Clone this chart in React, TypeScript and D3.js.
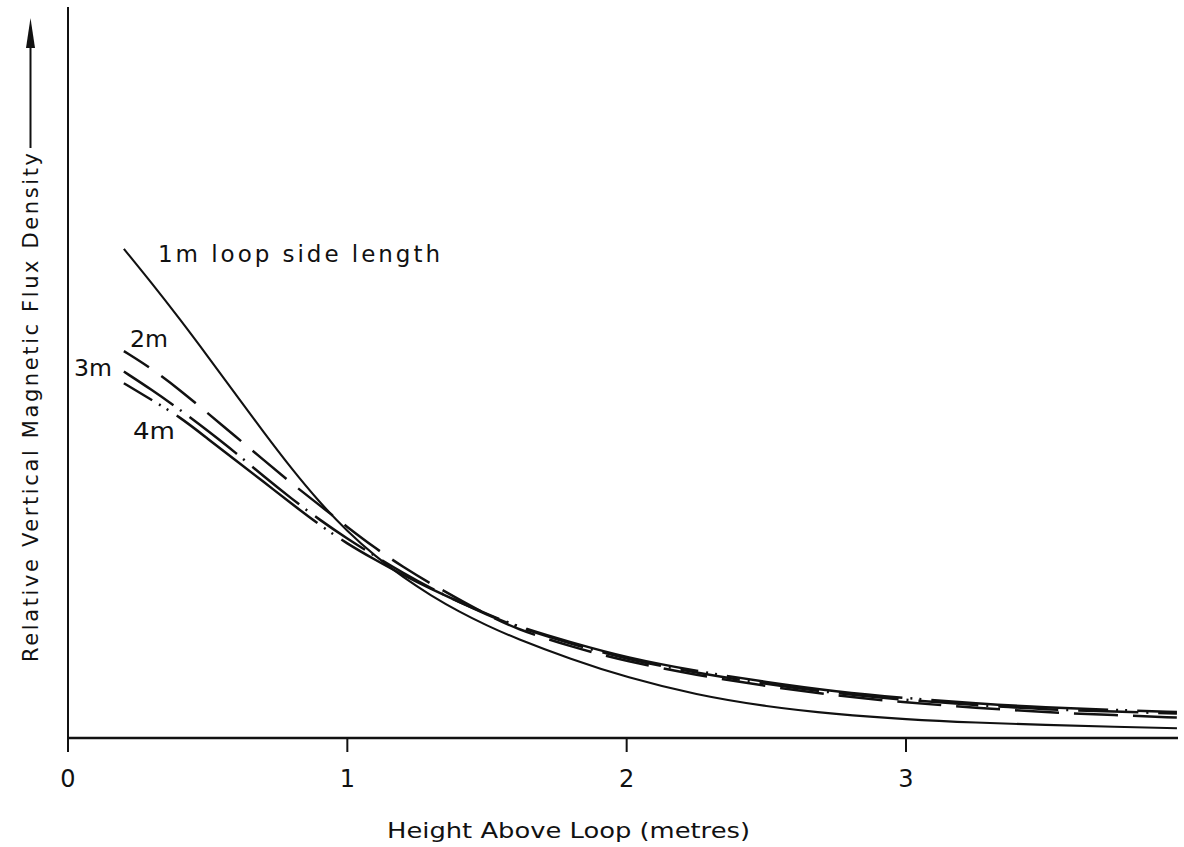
import React from "react";
import * as d3 from "d3";

// Height above loop (metres)
const heights = [0.2, 0.3, 0.4, 0.5, 0.6, 0.7, 0.8, 0.9, 1.0, 1.1, 1.2, 1.3, 1.4, 1.5, 1.6, 1.8, 2.0, 2.25, 2.5, 2.75, 3.0, 3.25, 3.5, 3.75, 3.97];

// Relative vertical magnetic flux density (arbitrary units)
const loop1m = [67.0, 62.3, 57.4, 52.3, 47.1, 41.9, 36.9, 32.3, 28.3, 24.9, 22.0, 19.5, 17.3, 15.4, 13.7, 10.8, 8.3, 5.9, 4.3, 3.25, 2.55, 2.1, 1.78, 1.53, 1.34];
const loop2m = [53.0, 50.6, 47.7, 44.5, 41.3, 38.1, 34.9, 31.9, 28.9, 26.0, 23.4, 21.1, 19.0, 16.9, 15.0, 12.5, 10.5, 8.6, 7.1, 5.8, 4.85, 4.15, 3.5, 3.15, 2.8];
const loop3m = [50.2, 47.7, 45.0, 42.1, 39.1, 35.85, 32.8, 29.9, 27.3, 24.9, 22.6, 20.5, 18.6, 16.9, 15.3, 12.9, 10.8, 8.9, 7.4, 6.1, 5.2, 4.5, 3.9, 3.62, 3.35];
const loop4m = [48.6, 46.3, 44.0, 41.0, 38.05, 35.1, 32.1, 29.2, 26.6, 24.4, 22.3, 20.4, 18.65, 17.0, 15.4, 13.1, 11.0, 9.15, 7.65, 6.35, 5.45, 4.75, 4.15, 3.85, 3.55];

const xTicks = [0, 1, 2, 3];
const xTickLabels = ["0", "1", "2", "3"];

const series = [
  { name: "1m", values: loop1m, dash: "none", offset: 0, width: 2.1 },
  { name: "2m", values: loop2m, dash: "44,15", offset: 14, width: 2.5 },
  { name: "3m", values: loop3m, dash: "60,8,2,10", offset: 0, width: 2.5 },
  { name: "4m", values: loop4m, dash: "177,8,2,7,2,10", offset: 144, width: 2.5 },
];

const FONT = "'DejaVu Sans', 'Liberation Sans', Arial, sans-serif";
const INK = "#111";

export default function App() {
  const W = 1184;
  const H = 847;
  const x = d3.scaleLinear().domain([0, 3]).range([68, 906]);
  const y = d3.scaleLinear().domain([0, 100]).range([738, 8]);
  const xEnd = 1178;

  const line = d3
    .line<[number, number]>()
    .x((d) => x(d[0]))
    .y((d) => y(d[1]))
    .curve(d3.curveBasis);

  return (
    <svg
      width={W}
      height={H}
      viewBox={`0 0 ${W} ${H}`}
      style={{ position: "absolute", left: 0, top: 0, background: "#fff" }}
    >
      <rect x={0} y={0} width={W} height={H} fill="#fff" />
      {/* axes */}
      <line x1={x(0)} x2={x(0)} y1={7} y2={752} stroke={INK} strokeWidth={2} />
      <line x1={x(0)} x2={xEnd} y1={y(0)} y2={y(0)} stroke={INK} strokeWidth={2.5} />
      {xTicks.map((t, i) => (
        <g key={t}>
          <line x1={x(t)} x2={x(t)} y1={y(0)} y2={752} stroke={INK} strokeWidth={2} />
          <text
            x={x(t)}
            y={787}
            textAnchor="middle"
            fontFamily={FONT}
            fontSize={24}
            fill={INK}
          >
            {xTickLabels[i]}
          </text>
        </g>
      ))}
      {/* x title */}
      <text
        x={387}
        y={838}
        fontFamily={FONT}
        fontSize={22}
        fill={INK}
        textLength={363}
        lengthAdjust="spacingAndGlyphs"
      >
        Height Above Loop (metres)
      </text>
      {/* y title with arrow */}
      <text
        transform="translate(38,662) rotate(-90)"
        fontFamily={FONT}
        fontSize={21}
        fill={INK}
        textLength={509}
        lengthAdjust="spacing"
      >
        Relative Vertical Magnetic Flux Density
      </text>
      <line x1={30.5} x2={30.5} y1={148} y2={40} stroke={INK} strokeWidth={2} />
      <path d="M30.5,18 L35,48 L26,48 Z" fill={INK} />

      {/* curves */}
      {series.map((s) => (
        <path
          key={s.name}
          d={line(heights.map((h, i) => [h, s.values[i]] as [number, number])) || ""}
          fill="none"
          stroke={INK}
          strokeWidth={s.width}
          strokeDasharray={s.dash}
          strokeDashoffset={s.offset}
        />
      ))}

      {/* labels */}
      <text x={158} y={262} fontFamily={FONT} fontSize={23} fill={INK} textLength={282} lengthAdjust="spacing">
        1m loop side length
      </text>
      <text x={130} y={347} fontFamily={FONT} fontSize={23} fill={INK} textLength={38} lengthAdjust="spacingAndGlyphs">
        2m
      </text>
      <text x={74} y={376} fontFamily={FONT} fontSize={23} fill={INK} textLength={38} lengthAdjust="spacingAndGlyphs">
        3m
      </text>
      <text x={133} y={439} fontFamily={FONT} fontSize={23} fill={INK} textLength={42} lengthAdjust="spacingAndGlyphs">
        4m
      </text>
    </svg>
  );
}
